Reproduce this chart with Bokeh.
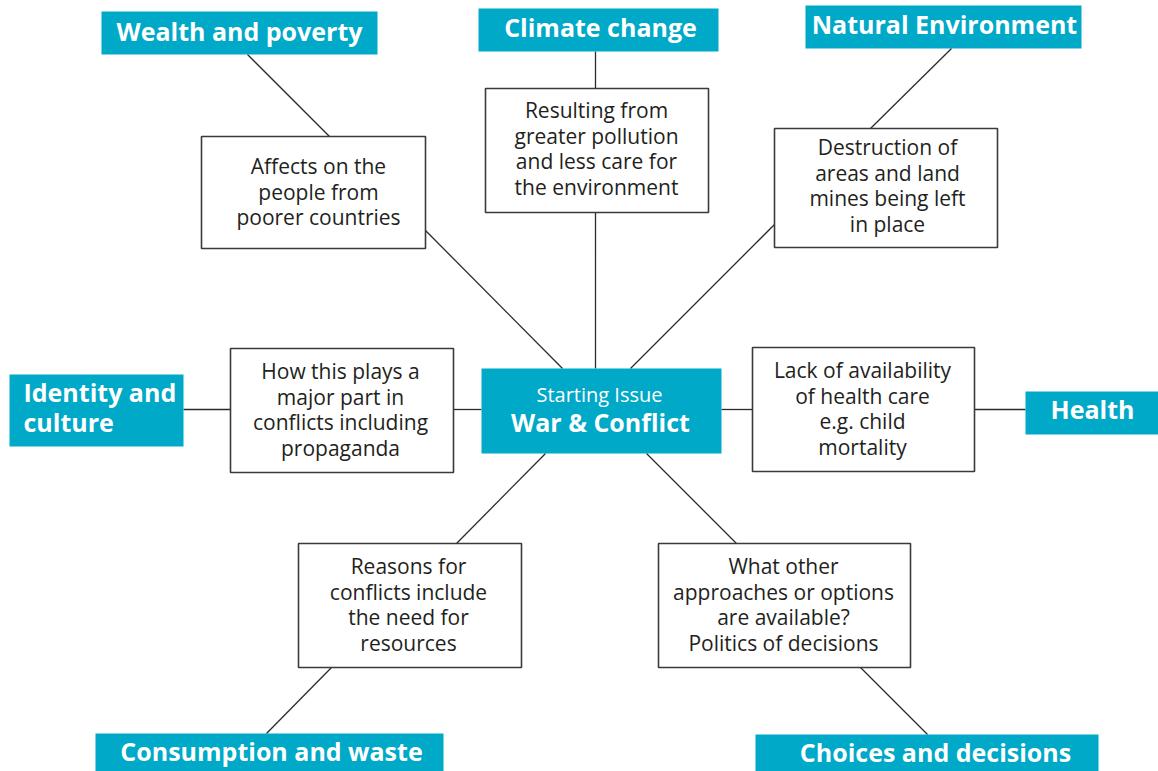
from bokeh.plotting import figure
from bokeh.models import Range1d, ColumnDataSource
from bokeh.core.properties import value
from bokeh.embed import file_html
from bokeh.resources import INLINE

# ---------------- content ----------------
center_label = "Starting Issue"
center_title = "War & Conflict"

topics = [
    "Wealth and poverty",
    "Climate change",
    "Natural Environment",
    "Identity and\nculture",
    "Health",
    "Consumption and waste",
    "Choices and decisions",
]

details = [
    "Affects on the\npeople from\npoorer countries",
    "Resulting from\ngreater pollution\nand less care for\nthe environment",
    "Destruction of\nareas and land\nmines being left\nin place",
    "How this plays a\nmajor part in\nconflicts including\npropaganda",
    "Lack of availability\nof health care\ne.g. child\nmortality",
    "Reasons for\nconflicts include\nthe need for\nresources",
    "What other\napproaches or options\nare available?\nPolitics of decisions",
]

# ---------------- layout (pixel coordinates, y downward) ----------------
TEAL = "#00a9c8"
INK = "#231f20"
BORDER = "#3a3a3a"
FONT = "Open Sans"

# topic boxes: left, right, top, bottom
topic_l = [101, 478, 805, 9, 1025, 95, 755]
topic_r = [377, 718, 1081, 183, 1170, 443, 1098]
topic_t = [11, 8, 5, 374, 391, 733, 734]
topic_b = [54, 51, 48, 446, 434, 780, 780]
# topic text anchor
topic_tx = [239, 600, 944, 23, 1092, 271, 935]
topic_ty = [30, 26, 23, 391, 408, 750, 751]
topic_align = ["center", "center", "center", "left", "center", "center", "center"]

# detail boxes
det_l = [201, 485, 774, 230, 752, 298, 658]
det_r = [425, 708, 997, 453, 974, 521, 910]
det_t = [136, 88, 128, 348, 347, 543, 543]
det_b = [248, 212, 247, 472, 471, 667, 667]
det_cx = [318, 596, 887, 340, 862, 408, 783]
det_y0 = [165.5, 109.5, 146.5, 370.5, 369.5, 565.5, 565.5]
LINE_H = 25.5

# center box
cen = dict(l=481, r=721, t=368, b=453)

# connector segments
seg_x0 = [247, 425, 595, 595, 951, 774, 183, 453, 721, 974, 545, 331, 646, 860]
seg_y0 = [54, 230, 51, 212, 48, 224, 409, 409, 409, 409, 453, 667, 453, 667]
seg_x1 = [329, 562, 595, 595, 870, 630, 230, 481, 752, 1025, 456, 266, 736, 927]
seg_y1 = [136, 368, 88, 368, 128, 368, 409, 409, 409, 409, 543, 733, 543, 734]

# ---------------- figure ----------------
p = figure(width=1158, height=771, output_backend="svg", toolbar_location=None,
           x_range=Range1d(0, 1158), y_range=Range1d(771, 0),
           min_border=0, background_fill_color="white", border_fill_color="white")
p.axis.visible = False
p.grid.visible = False
p.outline_line_color = None

p.segment(x0=seg_x0, y0=seg_y0, x1=seg_x1, y1=seg_y1,
          line_color="#2b2b2b", line_width=1.3)

# detail boxes
p.quad(left=det_l, right=det_r, top=det_t, bottom=det_b,
       fill_color="white", line_color=BORDER, line_width=1.6)

# topic boxes
p.quad(left=topic_l, right=topic_r, top=topic_t, bottom=topic_b,
       fill_color=TEAL, line_color=None)

# center box
p.quad(left=[cen["l"]], right=[cen["r"]], top=[cen["t"]], bottom=[cen["b"]],
       fill_color=TEAL, line_color=None)

# detail text
dx, dy, dt = [], [], []
for cx, y0, txt in zip(det_cx, det_y0, details):
    for i, line in enumerate(txt.split("\n")):
        dx.append(cx)
        dy.append(y0 + i * LINE_H)
        dt.append(line)
p.text(x=dx, y=dy, text=dt, text_align="center", text_baseline="middle",
       text_font=value(FONT), text_font_size="21px", text_color=INK)

# topic text
tx, ty, tt, ta = [], [], [], []
for x, y, txt, al in zip(topic_tx, topic_ty, topics, topic_align):
    for i, line in enumerate(txt.split("\n")):
        tx.append(x)
        ty.append(y + i * 30)
        tt.append(line)
        ta.append(al)
src = ColumnDataSource(dict(x=tx, y=ty, text=tt, align=ta))
p.text(x="x", y="y", text="text", text_align="align", source=src,
       text_baseline="middle", text_font=value(FONT), text_font_size="25px",
       text_font_style="bold", text_color="white")

# center text
p.text(x=[599], y=[394], text=[center_label], text_align="center", text_baseline="middle",
       text_font=value(FONT), text_font_size="20px", text_color="white")
p.text(x=[600], y=[421], text=[center_title], text_align="center", text_baseline="middle",
       text_font=value(FONT), text_font_size="25px", text_font_style="bold", text_color="white")

open("out.html", "w").write(file_html(p, INLINE))
